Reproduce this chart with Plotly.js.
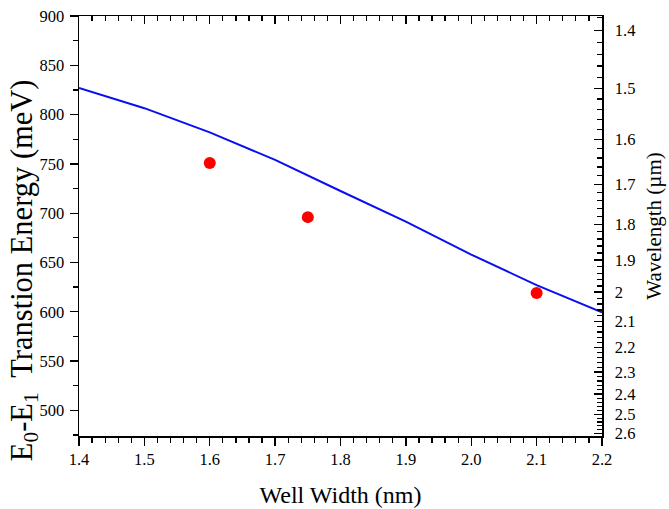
<!DOCTYPE html>
<html>
<head>
<meta charset="utf-8">
<script src="https://cdn.plot.ly/plotly-3.0.1.min.js"></script>
<style>
html,body{margin:0;padding:0;background:#fff;}
#chart{width:669px;height:509px;}
</style>
</head>
<body>
<div id="chart"></div>
<script>
// Calculated transition energy (blue line)
const wellWidth = [1.4, 1.5, 1.6, 1.7, 1.8, 1.9, 2.0, 2.1, 2.2];
const energyCalc = [827, 806.5, 782, 754, 722.5, 691.5, 658, 627, 599.5];
// Measured points (red dots)
const expWidth = [1.6, 1.75, 2.1];
const expEnergy = [751, 696, 619];
// Right axis wavelength labels (µm)
const wavelengthTicks = [1.4, 1.5, 1.6, 1.7, 1.8, 1.9, 2.0, 2.1, 2.2, 2.3, 2.4, 2.5, 2.6];
const wavelengthLabels = ['1.4','1.5','1.6','1.7','1.8','1.9','2','2.1','2.2','2.3','2.4','2.5','2.6'];
const yTitle = 'E<sub>0</sub>-E<sub>1</sub>  Transtion Energy (meV)';

const HC = 1239.84; // meV·µm
const toE = l => HC / l;
const minorWl = [];
for (let i = 138; i <= 260; i += 2) { if (i % 10 !== 0) minorWl.push(i / 100); }

const yRange = [474, 900];
const xRange = [1.4, 2.2];
const font = {family: '"Liberation Serif", "Times New Roman", serif', color: '#000'};
const TS = 16.5;

const traces = [
  {x: wellWidth, y: energyCalc, type: 'scatter', mode: 'lines',
   line: {color: '#0a0ff0', width: 2}, xaxis: 'x', yaxis: 'y', hoverinfo: 'skip'},
  {x: expWidth, y: expEnergy, type: 'scatter', mode: 'markers',
   marker: {color: '#ff0000', size: 12}, xaxis: 'x', yaxis: 'y'},
  {x: [1.4], y: [900], mode: 'markers', marker: {opacity: 0}, xaxis: 'x2', yaxis: 'y2', hoverinfo: 'skip'}
];

const layout = {
  width: 669, height: 509,
  margin: {l: 79, r: 67, t: 16, b: 73},
  paper_bgcolor: '#fff', plot_bgcolor: '#fff',
  showlegend: false,
  font: Object.assign({size: TS}, font),
  xaxis: {
    range: xRange, dtick: 0.1, tick0: 1.4, tickformat: '.1f',
    ticks: 'outside', ticklen: 8, tickwidth: 1.3, tickcolor: '#000',
    minor: {dtick: 0.02, ticks: 'outside', ticklen: 5, tickwidth: 1.3, tickcolor: '#000'},
    showline: true, linecolor: '#000', linewidth: 1.5, showgrid: false, zeroline: false,
    tickfont: Object.assign({size: TS}, font),
    title: {text: 'Well Width (nm)', font: Object.assign({size: 24}, font), standoff: 18}
  },
  xaxis2: {
    range: xRange, overlaying: 'x', side: 'top', dtick: 0.1, tick0: 1.4,
    ticks: 'inside', ticklen: 8, tickwidth: 1.3, tickcolor: '#000', showticklabels: false,
    minor: {dtick: 0.02, ticks: 'inside', ticklen: 5, tickwidth: 1.3, tickcolor: '#000'},
    showline: true, linecolor: '#000', linewidth: 1.5, showgrid: false, zeroline: false
  },
  yaxis: {
    range: yRange, dtick: 50, tick0: 500,
    ticks: 'outside', ticklen: 8, tickwidth: 1.3, tickcolor: '#000',
    minor: {dtick: 25, tick0: 500, ticks: 'outside', ticklen: 5, tickwidth: 1.3, tickcolor: '#000'},
    showline: true, linecolor: '#000', linewidth: 1.5, showgrid: false, zeroline: false,
    tickfont: Object.assign({size: TS}, font), ticklabelstandoff: 2
  },
  yaxis2: {
    range: yRange, overlaying: 'y', side: 'right', anchor: 'x',
    tickmode: 'array', tickvals: wavelengthTicks.map(toE), ticktext: wavelengthLabels,
    ticks: 'inside', ticklen: 8, tickwidth: 1.3, tickcolor: '#000',
    minor: {tickmode: 'array', tickvals: minorWl.map(toE), ticks: 'inside', ticklen: 5, tickwidth: 1.3, tickcolor: '#000'},
    showline: true, linecolor: '#000', linewidth: 1.5, showgrid: false, zeroline: false,
    tickfont: Object.assign({size: TS}, font), ticklabelstandoff: 8,
    title: {text: 'Wavelength (µm)', font: Object.assign({size: 21}, font), standoff: 12}
  },
  annotations: [{
    text: yTitle, xref: 'paper', yref: 'paper', x: -0.105, y: 0.395,
    xanchor: 'center', yanchor: 'middle', textangle: -90, showarrow: false,
    font: Object.assign({size: 30.5}, font)
  }]
};

Plotly.newPlot('chart', traces, layout, {displayModeBar: false, staticPlot: true});
</script>
</body>
</html>
